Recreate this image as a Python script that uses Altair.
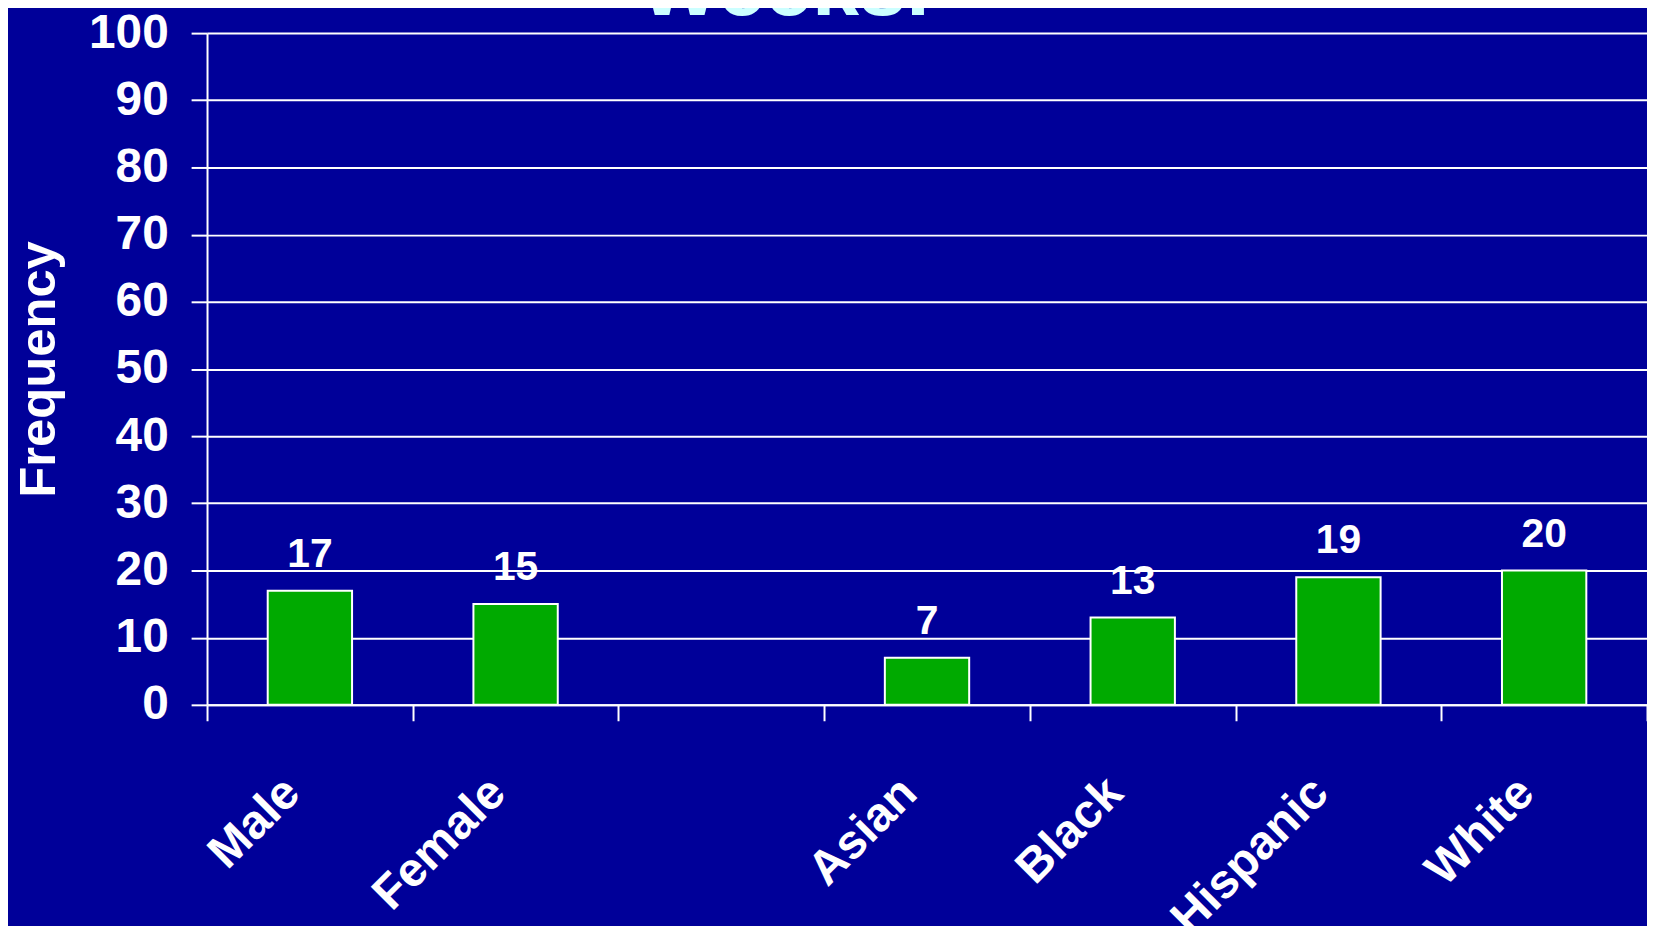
import altair as alt
import pandas as pd

categories = ["Male", "Female", "", "Asian", "Black", "Hispanic", "White"]
frequencies = [17, 15, None, 7, 13, 19, 20]
y_ticks = [0, 10, 20, 30, 40, 50, 60, 70, 80, 90, 100]

df = pd.DataFrame({"group": categories, "frequency": frequencies})

FONT = "Liberation Sans"
BG = "#000099"
GREEN = "#00AA00"

x_enc = alt.X(
    "group:N",
    sort=categories,
    scale=alt.Scale(domain=categories, paddingInner=0, paddingOuter=0),
    axis=alt.Axis(
        title=None,
        domainColor="white",
        domainWidth=2,
        tickColor="white",
        tickWidth=2,
        tickSize=16,
        tickBand="extent",
        labelAngle=-45,
        labelAlign="right",
        labelBaseline="middle",
        labelPadding=65,
        labelOffset=-18,
        labelFont=FONT,
        labelFontSize=48,
        labelFontWeight="bold",
        labelColor="white",
        labelLimit=500,
        labelOverlap=False,
        grid=False,
    ),
)

y_enc = alt.Y(
    "frequency:Q",
    scale=alt.Scale(domain=[0, 100], nice=False),
    axis=alt.Axis(
        values=y_ticks,
        title="Frequency",
        titleFont=FONT,
        titleFontSize=51,
        titleFontWeight="bold",
        titleColor="white",
        titleAngle=-90,
        titleBaseline="alphabetic",
        titleAlign="center",
        titleX=-153,
        titleY=337.5,
        domainColor="white",
        domainWidth=2,
        tickColor="white",
        tickWidth=2,
        tickSize=16,
        labelFont=FONT,
        labelFontSize=48,
        labelFontWeight="bold",
        labelColor="white",
        labelPadding=23,
        labelOverlap=False,
        grid=True,
        gridColor="white",
        gridWidth=2,
        gridOpacity=1,
    ),
)

base = alt.Chart(df).encode(x=x_enc, y=y_enc)

bars = base.mark_bar(
    color=GREEN, stroke="white", strokeWidth=2, opacity=1,
    width=alt.RelativeBandSize(0.41),
)

labels = base.mark_text(
    dy=-24,
    baseline="alphabetic",
    align="center",
    font=FONT,
    fontSize=41,
    fontWeight="bold",
    color="white",
).encode(text=alt.Text("frequency:Q", format="d"))

chart = (
    alt.layer(bars, labels)
    .properties(
        width=1447,
        height=675,
        title=alt.TitleParams(
            text="Weeks.",
            font=FONT,
            fontSize=85,
            fontWeight="bold",
            color="#CCFFFF",
            frame="group",
            anchor="middle",
            offset=0,
            dx=-143,
            dy=24,
        ),
        autosize=alt.AutoSizeParams(type="none"),
        padding={"left": 200, "top": 23, "right": 0, "bottom": 220},
        background=BG,
    )
    .configure_view(stroke="transparent")
)

chart.save("out.html", embed_options={"renderer": "svg", "actions": False})
